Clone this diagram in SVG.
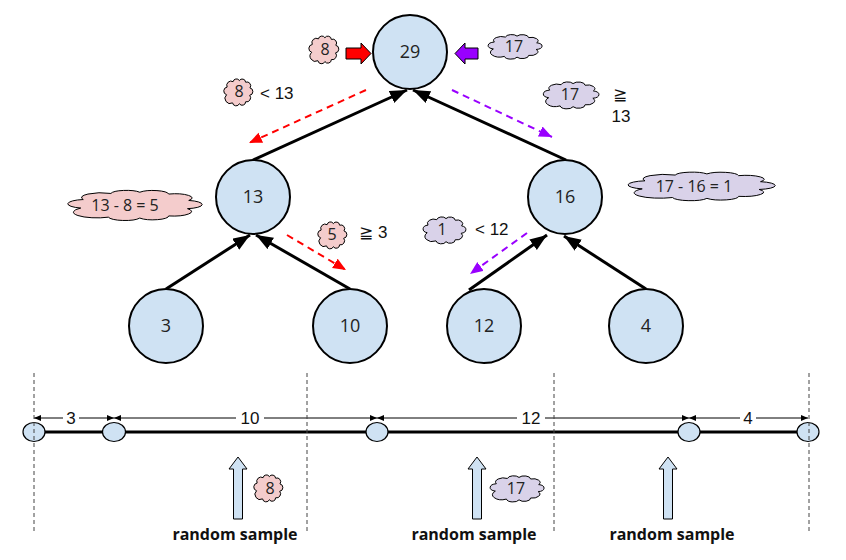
<svg xmlns="http://www.w3.org/2000/svg" xmlns:xlink="http://www.w3.org/1999/xlink" width="846" height="560" viewBox="0 0 846 560">
<style>
.node circle{fill:#cfe2f3;stroke:#000;stroke-width:2}
.nt{font-family:"Open Sans",sans-serif;font-size:18px;text-anchor:middle;fill:#222}
.ct{font-family:"Open Sans",sans-serif;font-size:16px;text-anchor:middle;fill:#222}
.cmp{font-family:"Liberation Sans",Arial,"DejaVu Sans",sans-serif;font-size:17px;fill:#111}
.dim{font-family:"Liberation Sans",Arial,sans-serif;font-size:17px;text-anchor:middle;fill:#111}
.rs{font-family:"Open Sans",sans-serif;font-size:16px;font-weight:bold;text-anchor:middle;fill:#111}
.edge{stroke:#000;stroke-width:3;fill:none;marker-end:url(#ah)}
.red{stroke:#ff0000;stroke-width:2;stroke-dasharray:7,5;fill:none;marker-end:url(#ahr)}
.pur{stroke:#9900ff;stroke-width:2;stroke-dasharray:7,5;fill:none;marker-end:url(#ahp)}
.pink{fill:#f4cccc;stroke:#000;stroke-width:1}
.lav{fill:#d9d2e9;stroke:#000;stroke-width:1}
.vd{stroke:#444;stroke-width:1;stroke-dasharray:4,3;fill:none}
.dl{stroke:#000;stroke-width:1;fill:none;marker-start:url(#da);marker-end:url(#da)}
.sm{fill:#cfe2f3;stroke:#000;stroke-width:1.2}
.up{fill:#cfe2f3;stroke:#000;stroke-width:1}
</style>
<defs>
<marker id="ah" markerUnits="userSpaceOnUse" markerWidth="18" markerHeight="14" refX="17" refY="6.5" orient="auto"><path d="M0,0 L17,6.5 L0,13 Z" fill="#000"/></marker>
<marker id="ahr" markerUnits="userSpaceOnUse" markerWidth="14" markerHeight="12" refX="13" refY="5.5" orient="auto"><path d="M0,0 L13,5.5 L0,11 Z" fill="#ff0000"/></marker>
<marker id="ahp" markerUnits="userSpaceOnUse" markerWidth="14" markerHeight="12" refX="13" refY="5.5" orient="auto"><path d="M0,0 L13,5.5 L0,11 Z" fill="#9900ff"/></marker>
<marker id="da" markerUnits="userSpaceOnUse" markerWidth="9" markerHeight="7" refX="7" refY="3" orient="auto-start-reverse"><path d="M0,0 L7,3 L0,6 Z" fill="#000"/></marker>
<symbol id="cloud" viewBox="0 0 100 100" preserveAspectRatio="none" overflow="visible">
<path vector-effect="non-scaling-stroke" d="M16.4,58 A11.5,11.5 0 0 1 18,35.6 A12.5,12.5 0 0 1 35.6,19.6 A10,10 0 0 1 54,16.4 A10,10 0 0 1 72.4,21.2 A11,11 0 0 1 85.2,38 A11,11 0 0 1 84.4,59.6 A12,12 0 0 1 72.4,78.8 A10,10 0 0 1 54,84.4 A10.5,10.5 0 0 1 34,82 A15,15 0 0 1 16.4,58 Z"/>
</symbol>
</defs>

<g id="connectors">
<path class="edge" d="M253,160 L407,90"/>
<path class="edge" d="M566,160 L413,90"/>
<path class="edge" d="M166,289 L250,235"/>
<path class="edge" d="M350,289 L256,235"/>
<path class="edge" d="M469,290 L547,235"/>
<path class="edge" d="M646,289 L564,236"/>
<path class="red" d="M366,90 L249,143"/>
<path class="pur" d="M452,90 L552,137"/>
<path class="red" d="M287,235 L346,270"/>
<path class="pur" d="M527,233 L470,274"/>
<polygon points="346,48 361,48 361,43 371,53.5 361,64 361,59 346,59" fill="#ff0000" stroke="#000" stroke-width="1"/>
<polygon points="478,48 465,48 465,43 455,53.5 465,64 465,59 478,59" fill="#9900ff" stroke="#000" stroke-width="1"/>
</g>

<g id="n29" class="node"><circle cx="410" cy="52" r="37"/><text class="nt" x="410" y="58">29</text></g>
<g id="n13" class="node"><circle cx="253" cy="197" r="37"/><text class="nt" x="253" y="203">13</text></g>
<g id="n16" class="node"><circle cx="565" cy="197" r="37"/><text class="nt" x="565" y="203">16</text></g>
<g id="n3" class="node"><circle cx="166" cy="326" r="37"/><text class="nt" x="166" y="332">3</text></g>
<g id="n10" class="node"><circle cx="350" cy="326" r="37"/><text class="nt" x="350" y="332">10</text></g>
<g id="n12" class="node"><circle cx="484" cy="326" r="37"/><text class="nt" x="484" y="332">12</text></g>
<g id="n4" class="node"><circle cx="646" cy="326" r="37"/><text class="nt" x="646" y="332">4</text></g>

<g id="cloud8a"><use xlink:href="#cloud" class="pink" x="306" y="32" width="35" height="35"/><text class="ct" x="325" y="55">8</text></g>
<g id="cloud17a"><use xlink:href="#cloud" class="lav" x="483" y="31" width="63" height="31"/><text class="ct" x="514" y="52">17</text></g>
<g id="cloud8b"><use xlink:href="#cloud" class="pink" x="221" y="75" width="34" height="34"/><text class="ct" x="239" y="97">8</text><text class="cmp" x="260" y="99">&lt; 13</text></g>
<g id="cloud17b"><use xlink:href="#cloud" class="lav" x="538" y="78" width="65" height="34"/><text class="ct" x="570" y="100">17</text><text class="cmp" x="620" y="100" text-anchor="middle">≧</text><text class="cmp" x="621" y="122" text-anchor="middle">13</text></g>
<g id="cloud13"><use xlink:href="#cloud" class="pink" x="55" y="186" width="157" height="38"/><text class="ct" x="125" y="211">13 - 8 = 5</text></g>
<g id="cloud5"><use xlink:href="#cloud" class="pink" x="315" y="218" width="34" height="34"/><text class="ct" x="332" y="240">5</text><text class="cmp" x="359" y="238">≧ 3</text></g>
<g id="cloud1716"><use xlink:href="#cloud" class="lav" x="614" y="168" width="172" height="36"/><text class="ct" x="694" y="192">17 - 16 = 1</text></g>
<g id="cloud1"><use xlink:href="#cloud" class="lav" x="419" y="213" width="50" height="34"/><text class="ct" x="442" y="235">1</text><text class="cmp" x="475" y="235">&lt; 12</text></g>

<g id="timeline">
<path d="M34,432 L808,432" stroke="#000" stroke-width="3"/>
<path class="dl" d="M34,418 L114,418"/>
<path class="dl" d="M114,418 L377,418"/>
<path class="dl" d="M377,418 L689,418"/>
<path class="dl" d="M689,418 L808,418"/>
<rect x="63" y="409" width="16" height="18" fill="#fff"/><text class="dim" x="71" y="424">3</text>
<rect x="236" y="409" width="28" height="18" fill="#fff"/><text class="dim" x="250" y="424">10</text>
<rect x="517" y="409" width="28" height="18" fill="#fff"/><text class="dim" x="531" y="424">12</text>
<rect x="740" y="409" width="16" height="18" fill="#fff"/><text class="dim" x="748" y="424">4</text>
<ellipse class="sm" cx="34" cy="432" rx="11" ry="9.5"/>
<ellipse class="sm" cx="114" cy="432" rx="11.5" ry="9.5"/>
<ellipse class="sm" cx="377" cy="432" rx="11" ry="9.5"/>
<ellipse class="sm" cx="689" cy="432" rx="11" ry="9.5"/>
<ellipse class="sm" cx="808" cy="432" rx="11" ry="9.5"/>
<path class="vd" d="M34,373 L34,531"/>
<path class="vd" d="M307,373 L307,531"/>
<path class="vd" d="M554,373 L554,531"/>
<path class="vd" d="M809,373 L809,531"/>
</g>

<g id="samples">
<polygon class="up" points="233.5,519 233.5,469 229,469 238,457 247,469 242.5,469 242.5,519"/>
<polygon class="up" points="472.5,519 472.5,469 468,469 477,457 486,469 481.5,469 481.5,519"/>
<polygon class="up" points="663.5,519 663.5,469 659,469 668,457 677,469 672.5,469 672.5,519"/>
<use xlink:href="#cloud" class="pink" x="251" y="471" width="34" height="34"/><text class="ct" x="270" y="494">8</text>
<use xlink:href="#cloud" class="lav" x="485" y="472" width="63" height="33"/><text class="ct" x="516" y="494">17</text>
<text class="rs" x="235" y="540">random sample</text>
<text class="rs" x="474" y="540">random sample</text>
<text class="rs" x="672" y="540">random sample</text>
</g>
</svg>
